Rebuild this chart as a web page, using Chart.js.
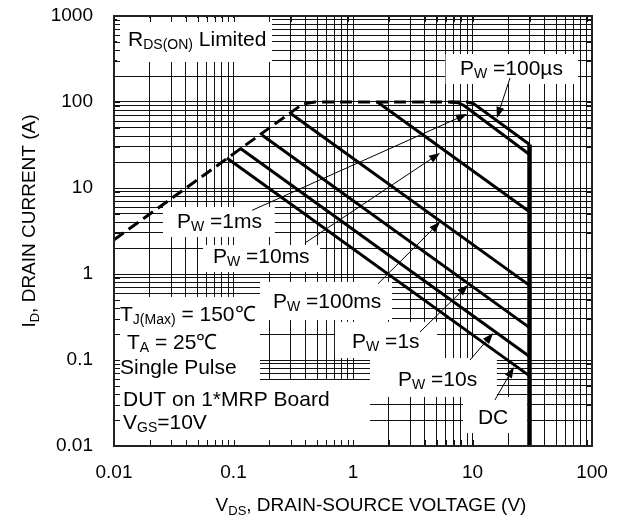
<!DOCTYPE html>
<html>
<head>
<meta charset="utf-8">
<script src="https://cdn.jsdelivr.net/npm/chart.js@4.4.1/dist/chart.umd.min.js"></script>
<style>
  html, body { margin: 0; padding: 0; background: #fff; }
  #wrap { width: 620px; height: 522px; }
</style>
</head>
<body>
<div id="wrap"><canvas id="soa"></canvas></div>
<script>
// === Data (log-log) ===
const xDecades = [0.01, 0.1, 1, 10, 100];
const xTickLabels = ["0.01", "0.1", "1", "10", "100"];
const yDecades = [0.01, 0.1, 1, 10, 100, 1000];
const yTickLabels = ["0.01", "0.1", "1", "10", "100", "1000"];

// R_DS(ON) limit (dashed)
const rdsV = [0.01, 0.38, 0.48, 9];
const rdsI = [2.5, 95, 100, 100];
// pulse widths
const pw100usV = [9, 10.2, 30];
const pw100usI = [100, 96, 32];
const pw1msV = [6.5, 7.6, 8.6, 30];
const pw1msI = [100, 98, 90, 24.5];
const pw10msV = [1.6, 30];
const pw10msI = [100, 5.3];
const pw100msV = [0.297, 30];
const pw100msI = [74.5, 0.737];
const pw1sV = [0.173, 30];
const pw1sI = [41.3, 0.238];
const pw10sV = [0.113, 30];
const pw10sI = [29.2, 0.11];
const dcV = [0.088, 30];
const dcI = [22.3, 0.0654];
// V_DS max limit
const vmaxV = [30, 30];
const vmaxI = [32, 0.01];

const FONT = "'Liberation Sans', Arial, Helvetica, sans-serif";

function pts(xs, ys) { return xs.map((v, i) => ({ x: v, y: ys[i] })); }
function withMinors(decades) {
  const out = [];
  decades.forEach((d, i) => {
    if (i === decades.length - 1) { out.push(d); return; }
    for (let m = 1; m < 10; m++) out.push(d * m);
  });
  return out;
}
function labelFor(value, decades, labels) {
  const k = decades.findIndex(d => Math.abs(Math.log10(d) - Math.log10(value)) < 1e-6);
  return k >= 0 ? labels[k] : "";
}
function noPad(s) { s.paddingTop = 0; s.paddingBottom = 0; s.paddingLeft = 0; s.paddingRight = 0; }

// === Annotations (data coordinates) ===
const boxes = [
  { from: [0.0106, 948], to: [0.21, 292] },      // RDS(ON)
  { from: [5.95, 361], to: [76.4, 162] },        // 100us
  { from: [0.0257, 6.01], to: [0.222, 2.69] },   // 1ms
  { from: [0.0556, 2.17], to: [0.53, 1.05] },    // 10ms
  { from: [0.1667, 0.807], to: [2.12, 0.292] },  // 100ms
  { from: [0.706, 0.277], to: [5.05, 0.1054] },  // 1s
  { from: [1.387, 0.1054], to: [16.0, 0.0372] }, // 10s
  { from: [8.33, 0.0372], to: [28.6, 0.01416] }, // DC
  { from: [0.0101, 0.541], to: [0.1667, 0.0585] },
  { from: [0.0101, 0.0585], to: [1.387, 0.0101] }
];
const texts = [
  { at: [0.0131, 526], parts: [["R"], ["DS(ON)", 1], [" Limited"]] },
  { at: [7.86, 242], parts: [["P"], ["W", 1], [" =100\u00b5s"]] },
  { at: [0.0337, 4.03], parts: [["P"], ["W", 1], [" =1ms"]] },
  { at: [0.0673, 1.58], parts: [["P"], ["W", 1], [" =10ms"]] },
  { at: [0.214, 0.472], parts: [["P"], ["W", 1], [" =100ms"]] },
  { at: [0.982, 0.162], parts: [["P"], ["W", 1], [" =1s"]] },
  { at: [2.38, 0.0585], parts: [["P"], ["W", 1], [" =10s"]] },
  { at: [11.1, 0.0212], parts: [["DC"]] },
  { at: [0.01122, 0.333], parts: [["T"], ["J(Max)", 1], [" = 150\u2103"]] },
  { at: [0.01285, 0.158], parts: [["T"], ["A", 1], [" = 25\u2103"]] },
  { at: [0.01122, 0.0807], parts: [["Single Pulse"]] },
  { at: [0.01189, 0.0343], parts: [["DUT on 1*MRP Board"]] },
  { at: [0.01189, 0.0185], parts: [["V"], ["GS", 1], ["=10V"]] }
];
const arrows = [
  { from: [20.6, 190], to: [16.0, 65.2] },
  { from: [0.143, 5.5], to: [9.0, 72.5] },
  { from: [0.396, 2.29], to: [5.35, 25.5] },
  { from: [1.62, 0.77], to: [5.35, 4.03] },
  { from: [3.64, 0.212], to: [9.17, 0.745] },
  { from: [9.53, 0.1], to: [14.9, 0.206] },
  { from: [15.4, 0.0343], to: [22.2, 0.083] }
];

function drawRich(ctx, parts, x, y, size, subSize, subDy) {
  ctx.textBaseline = "middle";
  ctx.textAlign = "left";
  let cx = x;
  parts.forEach(p => {
    const sub = p[1] === 1;
    ctx.font = (sub ? subSize : size) + "px " + FONT;
    ctx.fillText(p[0], cx, sub ? y + subDy : y);
    cx += ctx.measureText(p[0]).width;
  });
  return cx - x;
}
function richWidth(ctx, parts, size, subSize) {
  let w = 0;
  parts.forEach(p => {
    ctx.font = (p[1] === 1 ? subSize : size) + "px " + FONT;
    w += ctx.measureText(p[0]).width;
  });
  return w;
}

const overlay = {
  id: "overlay",
  beforeDatasetsDraw(chart) {
    const { ctx, chartArea: a, scales: { x, y } } = chart;
    ctx.save();
    ctx.fillStyle = "#fff";
    boxes.forEach(b => {
      const x0 = x.getPixelForValue(b.from[0]), x1 = x.getPixelForValue(b.to[0]);
      const y0 = y.getPixelForValue(b.from[1]), y1 = y.getPixelForValue(b.to[1]);
      ctx.fillRect(x0, y0, x1 - x0, y1 - y0);
    });
    // inward tick marks on all four sides
    ctx.strokeStyle = "#111";
    ctx.lineWidth = 1;
    ctx.beginPath();
    x.ticks.forEach(t => {
      const px = Math.round(x.getPixelForValue(t.value)) + 0.5;
      ctx.moveTo(px, a.bottom); ctx.lineTo(px, a.bottom - 6);
      ctx.moveTo(px, a.top); ctx.lineTo(px, a.top + 6);
    });
    y.ticks.forEach(t => {
      const py = Math.round(y.getPixelForValue(t.value)) + 0.5;
      ctx.moveTo(a.left, py); ctx.lineTo(a.left + 6, py);
      ctx.moveTo(a.right, py); ctx.lineTo(a.right - 6, py);
    });
    ctx.stroke();
    ctx.restore();
  },
  afterDatasetsDraw(chart) {
    const { ctx, chartArea: a, scales: { x, y } } = chart;
    ctx.save();
    ctx.fillStyle = "#000";
    texts.forEach(t => {
      drawRich(ctx, t.parts, x.getPixelForValue(t.at[0]), y.getPixelForValue(t.at[1]), 21, 14, 5);
    });
    // arrows
    ctx.strokeStyle = "#000";
    ctx.lineWidth = 1;
    arrows.forEach(ar => {
      const x0 = x.getPixelForValue(ar.from[0]), y0 = y.getPixelForValue(ar.from[1]);
      const x1 = x.getPixelForValue(ar.to[0]), y1 = y.getPixelForValue(ar.to[1]);
      const ang = Math.atan2(y1 - y0, x1 - x0);
      const L = 11, W = 4;
      const bx = x1 - L * Math.cos(ang), by = y1 - L * Math.sin(ang);
      ctx.beginPath();
      ctx.moveTo(x0, y0); ctx.lineTo(bx, by);
      ctx.stroke();
      ctx.beginPath();
      ctx.moveTo(x1, y1);
      ctx.lineTo(bx + W * Math.sin(ang), by - W * Math.cos(ang));
      ctx.lineTo(bx - W * Math.sin(ang), by + W * Math.cos(ang));
      ctx.closePath();
      ctx.fill();
    });
    // frame
    ctx.strokeStyle = "#222";
    ctx.lineWidth = 2;
    ctx.strokeRect(a.left, a.top, a.right - a.left, a.bottom - a.top);
    ctx.restore();
  },
  afterDraw(chart) {
    const { ctx } = chart;
    ctx.save();
    ctx.fillStyle = "#000";
    // x title
    const xParts = [["V"], ["DS", 1], [", DRAIN-SOURCE VOLTAGE (V)"]];
    const xw = richWidth(ctx, xParts, 19, 13);
    drawRich(ctx, xParts, 371 - xw / 2, 506, 19, 13, 5);
    // y title
    const yParts = [["I"], ["D", 1], [", DRAIN CURRENT (A)"]];
    const yw = richWidth(ctx, yParts, 19, 13);
    ctx.translate(30, 221);
    ctx.rotate(-Math.PI / 2);
    drawRich(ctx, yParts, -yw / 2, 0, 19, 13, 5);
    ctx.restore();
  }
};

const lineStyle = { borderColor: "#000", borderWidth: 3, pointRadius: 0, showLine: true, tension: 0, fill: false };

new Chart(document.getElementById("soa"), {
  type: "scatter",
  data: {
    datasets: [
      { ...lineStyle, label: "RDS(ON) Limited", data: pts(rdsV, rdsI), borderDash: [12, 6] },
      { ...lineStyle, label: "100us", data: pts(pw100usV, pw100usI) },
      { ...lineStyle, label: "1ms", data: pts(pw1msV, pw1msI) },
      { ...lineStyle, label: "10ms", data: pts(pw10msV, pw10msI) },
      { ...lineStyle, label: "100ms", data: pts(pw100msV, pw100msI) },
      { ...lineStyle, label: "1s", data: pts(pw1sV, pw1sI) },
      { ...lineStyle, label: "10s", data: pts(pw10sV, pw10sI) },
      { ...lineStyle, label: "DC", data: pts(dcV, dcI) },
      { ...lineStyle, label: "VDS max", data: pts(vmaxV, vmaxI), borderWidth: 4.5 }
    ]
  },
  options: {
    responsive: true,
    maintainAspectRatio: false,
    animation: false,
    layout: { padding: { left: 0, right: 28, top: 16, bottom: 0 } },
    plugins: { legend: { display: false }, tooltip: { enabled: false } },
    scales: {
      x: {
        type: "logarithmic",
        min: 0.01, max: 100,
        afterBuildTicks: s => { s.ticks = withMinors(xDecades).map(v => ({ value: v })); },
        afterFit: s => { s.height = 76; noPad(s); },
        grid: { color: "#111", lineWidth: 1, drawTicks: false },
        border: { display: false },
        ticks: {
          autoSkip: false, maxRotation: 0, padding: 15, color: "#000",
          font: { family: FONT, size: 19 },
          callback: v => labelFor(v, xDecades, xTickLabels)
        }
      },
      y: {
        type: "logarithmic",
        min: 0.01, max: 1000,
        afterBuildTicks: s => { s.ticks = withMinors(yDecades).map(v => ({ value: v })); },
        afterFit: s => { s.width = 114; noPad(s); },
        grid: { color: "#111", lineWidth: 1, drawTicks: false },
        border: { display: false },
        ticks: {
          autoSkip: false, padding: 21, color: "#000",
          font: { family: FONT, size: 19 },
          callback: v => labelFor(v, yDecades, yTickLabels)
        }
      }
    }
  },
  plugins: [overlay]
});
</script>
</body>
</html>
